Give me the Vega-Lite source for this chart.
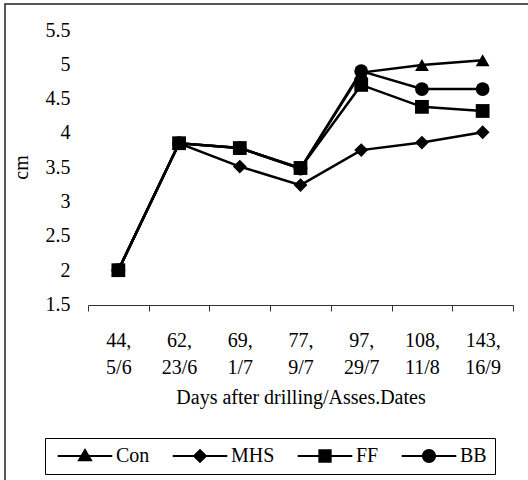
{
  "$schema": "https://vega.github.io/schema/vega-lite/v6.json",
  "width": 530,
  "height": 480,
  "autosize": {"type": "none"},
  "padding": {"left": 5, "top": 4, "right": 0, "bottom": 0},
  "background": "white",
  "config": {
    "font": "Liberation Serif",
    "view": {"stroke": "#222", "strokeWidth": 1.5}
  },
  "data": {
    "values": [
      {"series": "Con", "date": "44, 5/6", "value": 2},
      {"series": "Con", "date": "62, 23/6", "value": 3.85},
      {"series": "Con", "date": "69, 1/7", "value": 3.78},
      {"series": "Con", "date": "77, 9/7", "value": 3.48},
      {"series": "Con", "date": "97, 29/7", "value": 4.88},
      {"series": "Con", "date": "108, 11/8", "value": 4.99},
      {"series": "Con", "date": "143, 16/9", "value": 5.06},
      {"series": "MHS", "date": "44, 5/6", "value": 2},
      {"series": "MHS", "date": "62, 23/6", "value": 3.85},
      {"series": "MHS", "date": "69, 1/7", "value": 3.51},
      {"series": "MHS", "date": "77, 9/7", "value": 3.24},
      {"series": "MHS", "date": "97, 29/7", "value": 3.75},
      {"series": "MHS", "date": "108, 11/8", "value": 3.86},
      {"series": "MHS", "date": "143, 16/9", "value": 4.01},
      {"series": "BB", "date": "44, 5/6", "value": 2},
      {"series": "BB", "date": "62, 23/6", "value": 3.85},
      {"series": "BB", "date": "69, 1/7", "value": 3.78},
      {"series": "BB", "date": "77, 9/7", "value": 3.48},
      {"series": "BB", "date": "97, 29/7", "value": 4.9},
      {"series": "BB", "date": "108, 11/8", "value": 4.64},
      {"series": "BB", "date": "143, 16/9", "value": 4.64},
      {"series": "FF", "date": "44, 5/6", "value": 2},
      {"series": "FF", "date": "62, 23/6", "value": 3.85},
      {"series": "FF", "date": "69, 1/7", "value": 3.78},
      {"series": "FF", "date": "77, 9/7", "value": 3.49},
      {"series": "FF", "date": "97, 29/7", "value": 4.7},
      {"series": "FF", "date": "108, 11/8", "value": 4.38},
      {"series": "FF", "date": "143, 16/9", "value": 4.32}
    ]
  },
  "encoding": {
    "x": {
      "field": "date",
      "type": "nominal",
      "bandPosition": 0.5,
      "scale": {
        "type": "band",
        "domain": ["44, 5/6", "62, 23/6", "69, 1/7", "77, 9/7", "97, 29/7", "108, 11/8", "143, 16/9"],
        "range": [83, 508],
        "paddingInner": 0,
        "paddingOuter": 0
      },
      "axis": {
        "title": "Days after drilling/Asses.Dates",
        "offset": -179,
        "tickBand": "extent",
        "tickSize": 6,
        "tickColor": "#333",
        "domainColor": "#333",
        "grid": false,
        "labelAngle": 0,
        "labelFontSize": 20,
        "labelLineHeight": 27.5,
        "labelPadding": 19,
        "labelColor": "black",
        "labelExpr": "split(datum.label, ' ')",
        "titleFontSize": 20,
        "titleFontWeight": "normal",
        "titleColor": "black",
        "titleY": 92,
        "titleBaseline": "middle"
      }
    },
    "y": {
      "field": "value",
      "type": "quantitative",
      "scale": {"domain": [1.5, 5.5], "range": [300.5, 26], "nice": false, "zero": false},
      "axis": {
        "title": "cm",
        "values": [1.5, 2, 2.5, 3, 3.5, 4, 4.5, 5, 5.5],
        "format": "~g",
        "domain": false,
        "ticks": false,
        "tickSize": 0,
        "grid": false,
        "labelPadding": -65,
        "labelFontSize": 20,
        "labelColor": "black",
        "labelFlush": false,
        "titleFontSize": 20,
        "titleFontWeight": "normal",
        "titleColor": "black",
        "titleX": 16,
        "titleY": 163,
        "titleAngle": 270,
        "titleAlign": "center",
        "titleBaseline": "middle"
      }
    }
  },
  "layer": [
    {
      "mark": {"type": "line", "color": "black", "strokeWidth": 2.5},
      "encoding": {"detail": {"field": "series"}}
    },
    {
      "mark": {"type": "point", "filled": true, "color": "black", "opacity": 1, "size": 190},
      "encoding": {
        "shape": {
          "field": "series",
          "type": "nominal",
          "scale": {
            "domain": ["Con", "MHS", "FF", "BB"],
            "range": ["triangle-up", "diamond", "square", "circle"]
          },
          "legend": null
        }
      }
    },
    {
      "mark": {"type": "point", "filled": true, "fill": "black", "opacity": 0},
      "encoding": {
        "shape": {
          "field": "series",
          "type": "nominal",
          "scale": {
            "domain": ["Con", "MHS", "FF", "BB"],
            "range": [
              "M-3.9,-0.15H3.9V0.15H-3.9ZM0,-1.15L1.1,0.75L-1.1,0.75Z",
              "M-3.9,-0.15H3.9V0.15H-3.9ZM0,-1.05L1.05,0L0,1.05L-1.05,0Z",
              "M-3.9,-0.15H3.9V0.15H-3.9ZM-0.95,-0.95H0.95V0.95H-0.95Z",
              "M-3.9,-0.15H3.9V0.15H-3.9ZM-1,0A1,1,0,1,1,1,0A1,1,0,1,1,-1,0Z"
            ]
          },
          "legend": {
            "title": null,
            "orient": "none",
            "legendX": 40,
            "legendY": 434,
            "direction": "horizontal",
            "columns": 4,
            "strokeColor": "black",
            "padding": 8,
            "labelFontSize": 20,
            "labelColor": "black",
            "symbolSize": 196,
            "symbolStrokeWidth": 0,
            "symbolFillColor": "black",
            "symbolOpacity": 1,
            "symbolOffset": 22,
            "labelOffset": 21,
            "columnPadding": 18
          }
        }
      }
    }
  ],
  "resolve": {"scale": {"shape": "independent"}, "legend": {"shape": "independent"}}
}
